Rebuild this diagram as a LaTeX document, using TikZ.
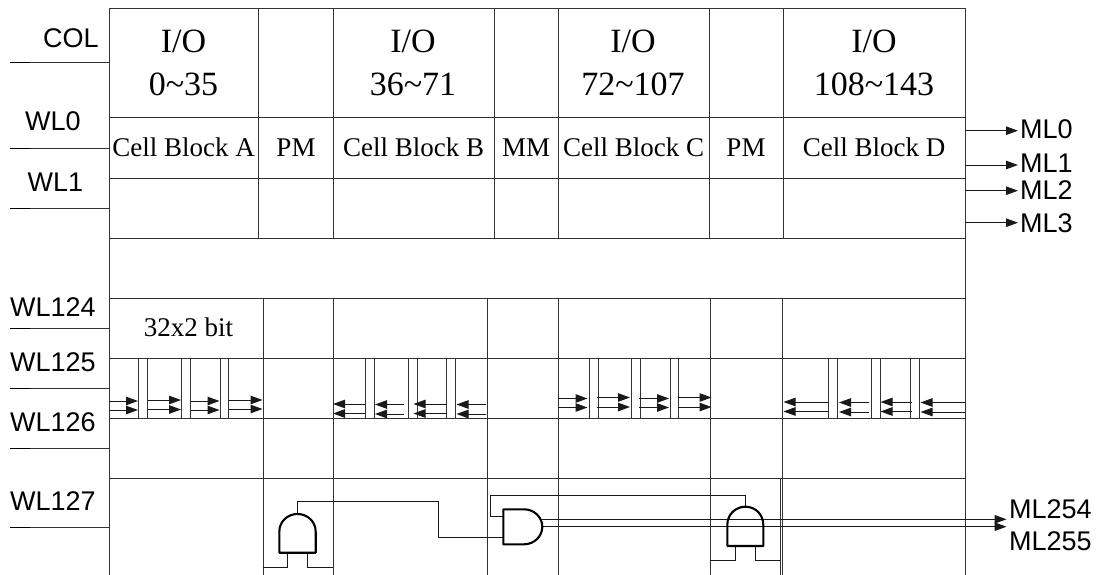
\documentclass[tikz,border=0pt]{standalone}
\usepackage{fontspec}
\setmainfont{Liberation Serif}
\newfontfamily\arialf{Liberation Sans}
\usetikzlibrary{arrows.meta}
\tikzset{
  grid/.style={draw=black!80,line width=1pt},
  wire/.style={draw=black!90,line width=1pt},
  tick/.style={draw=black,line width=1pt},
  gatebody/.style={draw=black,line width=2.1pt,line join=round},
  arr/.style={wire,-{Triangle[length=12pt,width=8.5pt]},shorten >=0pt},
  big/.style={inner sep=0pt,anchor=base,font=\fontsize{34}{34}\selectfont},
  cell/.style={inner sep=0pt,anchor=base,font=\fontsize{27}{27}\selectfont},
  lab/.style={inner sep=0pt,anchor=base west,font=\arialf\fontsize{27}{27}\selectfont},
}
\newcommand{\Arr}[4]{\coordinate (#1s) at (#2,#4);\coordinate (#1e) at (#3,#4);\draw[arr] (#1s) -- (#1e);}
\newcommand{\Pillar}[3]{\coordinate (#1t) at (#2,358);\coordinate (#1b) at (#3,418);\draw[grid] (#1t) rectangle (#1b);}
\begin{document}
\begin{tikzpicture}[x=1pt,y=-1pt]
\useasboundingbox (0,0) rectangle (1097,575);
% outer frame and rows
\draw[grid] (109,575) -- (109,9) -- (965,9) -- (965,575);
\foreach \y in {118,178,238,298,358,418,478}{\draw[grid] (109,\y) -- (965,\y);}
% upper columns
\foreach \x in {258.5,333,494,558,709,783}{\draw[grid] (\x,9) -- (\x,238);}
% lower columns
\foreach \x in {263,333,487,558,710,782.5}{\draw[grid] (\x,298) -- (\x,575);}
\draw[grid] (780.5,478) -- (780.5,575);
% left word lines
\foreach \y in {63,148,208,328,388,448,527}{\draw[grid] (30,\y) -- (109,\y);\draw[tick] (10,\y) -- (30,\y);}
% left labels
\node[lab] (col) at (43,47.5) {COL};
\node[lab] (wl0) at (25,131) {WL0};
\node[lab] (wl1) at (27.5,191.5) {WL1};
\node[lab] (wl124) at (10,316) {WL124};
\node[lab] (wl125) at (10,371.5) {WL125};
\node[lab] (wl126) at (10,431.5) {WL126};
\node[lab] (wl127) at (10,510.5) {WL127};
% header
\node[big] (io1) at (183.5,52.5) {I/O};
\node[big] (rg1) at (183.5,96) {0\textasciitilde35};
\node[big] (io2) at (413,52.5) {I/O};
\node[big] (rg2) at (413,96) {36\textasciitilde71};
\node[big] (io3) at (633,52.5) {I/O};
\node[big] (rg3) at (633,96) {72\textasciitilde107};
\node[big] (io4) at (874,52.5) {I/O};
\node[big] (rg4) at (874,96) {108\textasciitilde143};
% cell row
\node[cell] (cba) at (183.5,156.5) {Cell Block A};
\node[cell] (pm1) at (296,156.5) {PM};
\node[cell] (cbb) at (413.5,156.5) {Cell Block B};
\node[cell] (mm) at (526,156.5) {MM};
\node[cell] (cbc) at (633.5,156.5) {Cell Block C};
\node[cell] (pm2) at (746,156.5) {PM};
\node[cell] (cbd) at (874,156.5) {Cell Block D};
\node[cell] (bits) at (188.5,336) {32x2 bit};
% pillars
\Pillar{a1}{138.5}{147.5}\Pillar{a2}{181.5}{190.5}\Pillar{a3}{220}{228.8}
\Pillar{b1}{365.3}{374.3}\Pillar{b2}{408.3}{417}\Pillar{b3}{446.7}{455.7}
\Pillar{c1}{589}{598}\Pillar{c2}{631.7}{640.3}\Pillar{c3}{670.3}{678.7}
\Pillar{d1}{828.7}{837.3}\Pillar{d2}{871.7}{880}\Pillar{d3}{910.3}{919}
% block A arrows
\Arr{aa1}{109}{138}{401}\Arr{aa2}{109}{138}{410}
\Arr{aa3}{147.5}{181}{400}\Arr{aa4}{147.5}{181}{409.5}
\Arr{aa5}{190.5}{219.5}{401}\Arr{aa6}{190.5}{219.5}{410}
\Arr{aa7}{228.8}{262.5}{400}\Arr{aa8}{228.8}{262.5}{409}
% block B arrows
\Arr{ba1}{365.3}{333}{404}\Arr{ba2}{365.3}{333}{413.5}
\Arr{ba3}{404}{375}{404.5}\Arr{ba4}{404}{375}{414}
\Arr{ba5}{446.7}{413.5}{404}\Arr{ba6}{446.7}{413.5}{413.5}
\Arr{ba7}{486}{456.5}{404.5}\Arr{ba8}{486}{456.5}{414}
% block C arrows
\Arr{ca1}{558}{587.5}{398.5}\Arr{ca2}{558}{587.5}{407.5}
\Arr{ca3}{596.7}{630}{397.5}\Arr{ca4}{596.7}{630}{407}
\Arr{ca5}{639.3}{669}{398.5}\Arr{ca6}{639.3}{669}{407.5}
\Arr{ca7}{677.7}{711.5}{397.5}\Arr{ca8}{677.7}{711.5}{407}
% block D arrows
\Arr{da1}{828.7}{783.5}{402}\Arr{da2}{828.7}{783.5}{411.5}
\Arr{da3}{869}{839}{402.5}\Arr{da4}{869}{839}{412}
\Arr{da5}{911.7}{880.5}{402}\Arr{da6}{911.7}{880.5}{411.5}
\Arr{da7}{965}{920.5}{402.5}\Arr{da8}{965}{920.5}{412}
% right match lines
\Arr{m0}{965}{1018}{130.7}\Arr{m1}{965}{1018}{165}\Arr{m2}{965}{1018}{190.7}\Arr{m3}{965}{1018}{222.7}
\node[lab] (ml0) at (1020,139) {ML0};
\node[lab] (ml1) at (1020,172) {ML1};
\node[lab] (ml2) at (1020,199) {ML2};
\node[lab] (ml3) at (1020,232) {ML3};
\node[lab] (ml254) at (1009,518) {ML254};
\node[lab] (ml255) at (1009,550) {ML255};
% gate wires
\coordinate (g1out) at (297,514);
\coordinate (g2ina) at (503.3,516);
\coordinate (g2inb) at (503.3,537.3);
\coordinate (g3out) at (745.7,506.7);
\draw[wire] (g1out) -- (297,501) -- (438.3,501) -- (438.3,537.3) -- (g2inb);
\draw[wire] (g2ina) -- (490,516) -- (490,495) -- (745.7,495) -- (g3out);
\draw[wire] (263,567.3) -- (287.3,567.3) -- (287.3,552.7);
\draw[wire] (333,567.3) -- (307.7,567.3) -- (307.7,552.7);
\draw[wire] (710,560) -- (735,560) -- (735,546);
\draw[wire] (781,560) -- (755.7,560) -- (755.7,546);
% gate outputs
\Arr{o1}{542}{1006.5}{519.3}\Arr{o2}{542}{1006.5}{526.7}
% gates
\draw[gatebody] (279.3,552.7) -- (279.3,532) .. controls (279.3,521) and (288,514) .. (297.5,514) .. controls (307,514) and (315.7,521) .. (315.7,532) -- (315.7,552.7) -- cycle;
\draw[gatebody] (503.3,509.3) -- (524,509.3) .. controls (534,509.3) and (542.3,517) .. (542.3,526.8) .. controls (542.3,536.5) and (534,544.3) .. (524,544.3) -- (503.3,544.3) -- cycle;
\draw[gatebody] (727.3,546) -- (727.3,525) .. controls (727.3,514) and (736,506.7) .. (745.3,506.7) .. controls (755,506.7) and (763.3,514) .. (763.3,525) -- (763.3,546) -- cycle;
\end{tikzpicture}
\end{document}
